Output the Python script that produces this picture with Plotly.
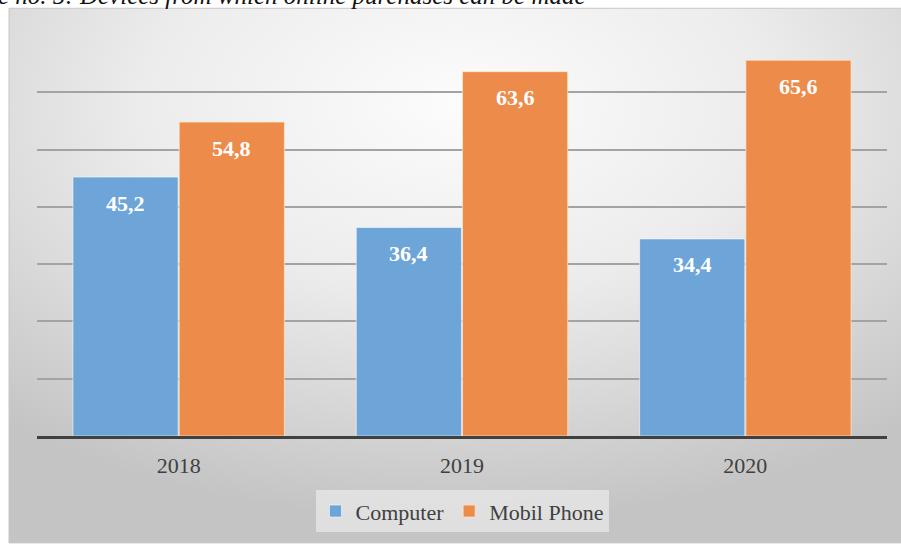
import base64
import plotly.graph_objects as go

years = ["2018", "2019", "2020"]
computer = [45.2, 36.4, 34.4]
mobile = [54.8, 63.6, 65.6]
series_names = ["Computer", "Mobil Phone"]
title_text = "Figure no. 5: Devices from which online purchases can be made"

W, H = 901, 544
L, R, T, B = 37, 14, 35, 104
PW, PH = W - L - R, H - T - B

def px_to_paper_x(px):
    return (px - L) / PW

def px_to_paper_y(py):
    return (H - B - py) / PH

svg = (
    "<svg xmlns='http://www.w3.org/2000/svg' width='892' height='536'>"
    "<defs><radialGradient id='g' cx='0.5' cy='0.18' r='0.78'>"
    "<stop offset='0' stop-color='#fcfcfc'/>"
    "<stop offset='0.45' stop-color='#ececec'/>"
    "<stop offset='1' stop-color='#c4c4c4'/>"
    "</radialGradient></defs>"
    "<rect width='892' height='536' fill='url(#g)'/></svg>"
)
bg_uri = "data:image/svg+xml;base64," + base64.b64encode(svg.encode()).decode()

fig = go.Figure()
fig.add_trace(go.Bar(
    x=years, y=computer, name=series_names[0],
    marker=dict(color="#6ea5d9", line=dict(color="rgba(255,255,255,0.55)", width=1)),
))
fig.add_trace(go.Bar(
    x=years, y=mobile, name=series_names[1],
    marker=dict(color="#ed8b4b", line=dict(color="rgba(255,235,210,0.7)", width=1)),
))

annotations = []
for i, (c, m) in enumerate(zip(computer, mobile)):
    for off, v in ((-0.1875, c), (0.1875, m)):
        annotations.append(dict(
            x=i + off, y=v, xref="x", yref="y", showarrow=False,
            text=f"{v:.1f}".replace(".", ","), yshift=-26, yanchor="middle",
            font=dict(family="Liberation Serif", size=22, color="white", weight="bold"),
        ))

annotations.append(dict(
    x=px_to_paper_x(588), y=px_to_paper_y(11), xref="paper", yref="paper",
    xanchor="right", yanchor="bottom", showarrow=False, text=f"<i>{title_text}</i>",
    font=dict(family="Liberation Serif", size=25, color="#111111"),
))

fig.update_layout(
    width=W, height=H,
    margin=dict(l=L, r=R, t=T, b=B),
    paper_bgcolor="white",
    plot_bgcolor="rgba(0,0,0,0)",
    barmode="group", bargap=0.25, bargroupgap=0.01,
    showlegend=True,
    legend=dict(
        orientation="h", x=0.5, xanchor="center", y=px_to_paper_y(516), yanchor="middle",
        bgcolor="rgba(238,238,238,0.65)",
        font=dict(family="Liberation Serif", size=22, color="#404040"),
        itemwidth=30,
    ),
    font=dict(family="Liberation Serif", size=22, color="#404040"),
    xaxis=dict(
        showline=True, linecolor="#404040", linewidth=3, ticks="",
        ticklabelstandoff=8, tickfont=dict(size=22, color="#404040"),
        showgrid=False,
    ),
    yaxis=dict(
        range=[0, 70], dtick=10, showticklabels=False, showline=False,
        gridcolor="#a3a3a3", gridwidth=1.6, zeroline=False,
    ),
    images=[dict(
        source=bg_uri, xref="paper", yref="paper",
        x=px_to_paper_x(9), y=px_to_paper_y(8),
        sizex=896 / PW, sizey=540 / PH, sizing="stretch",
        xanchor="left", yanchor="top", layer="below",
    )],
    shapes=[dict(
        type="rect", xref="paper", yref="paper",
        x0=px_to_paper_x(9), x1=px_to_paper_x(905),
        y0=px_to_paper_y(548), y1=px_to_paper_y(8),
        line=dict(color="#c6c6c6", width=1), fillcolor="rgba(0,0,0,0)", layer="below",
    )],
    annotations=annotations,
)

fig.write_html(
    "out.html",
    config={"displayModeBar": False},
    post_script="document.body.style.margin='0';document.body.style.overflow='hidden';",
)
